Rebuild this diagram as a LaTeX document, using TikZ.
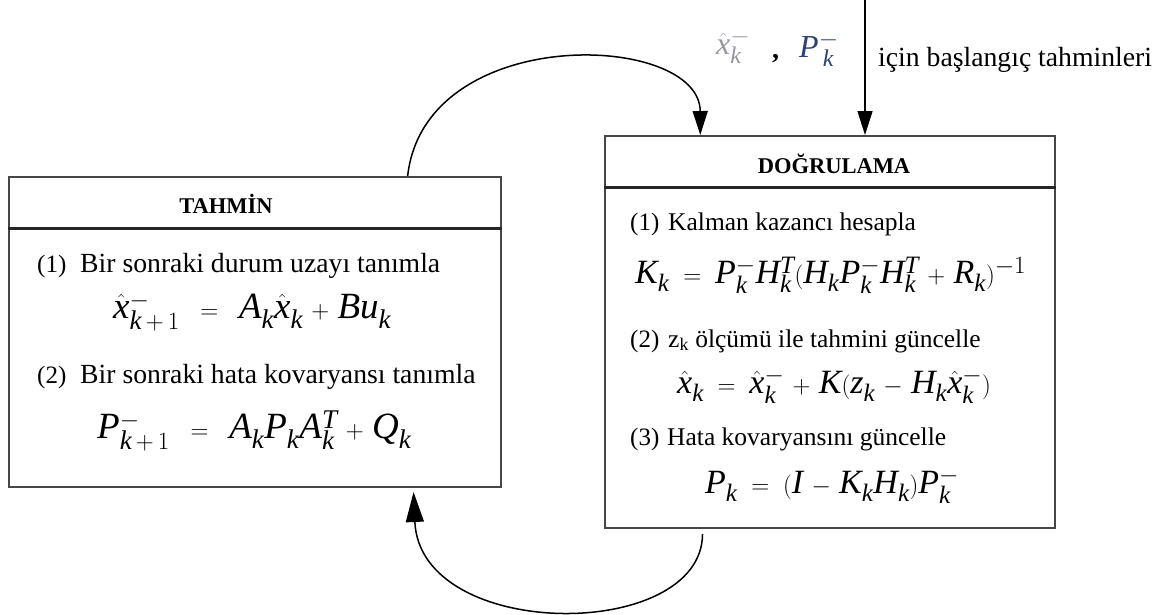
\documentclass[tikz,border=0pt]{standalone}
\usepackage{fontspec}
\setmainfont{Liberation Serif}[NFSSFamily=libser]
\DeclareSymbolFont{letters}{TU}{libser}{m}{it}
\DeclareSymbolFont{tmrm}{TU}{libser}{m}{n}
\DeclareMathSymbol{0}{\mathalpha}{tmrm}{"30}
\DeclareMathSymbol{1}{\mathalpha}{tmrm}{"31}
\DeclareMathSymbol{+}{\mathbin}{tmrm}{"2B}
\DeclareMathSymbol{=}{\mathrel}{tmrm}{"3D}
\DeclareMathSymbol{(}{\mathopen}{tmrm}{"28}
\DeclareMathSymbol{)}{\mathclose}{tmrm}{"29}
\DeclareMathSizes{37}{37}{27}{20}
\DeclareMathSizes{34}{34}{25}{19}
\DeclareMathSizes{32}{32}{24}{18}
\usetikzlibrary{arrows.meta,calc}
\definecolor{boxgray}{RGB}{70,70,70}
\definecolor{xcol}{RGB}{150,150,160}
\definecolor{pcol}{RGB}{45,65,110}
\newcommand{\wideops}{\medmuskip=6mu plus 2mu\relax}
\tikzset{
  box/.style={draw=boxgray, line width=2pt, inner sep=0pt, anchor=north west},
  divider/.style={draw=black!85, line width=3pt},
  hdr/.style={font=\fontsize{22.5}{26}\selectfont\bfseries, anchor=base, inner sep=0pt},
  txtL/.style={font=\fontsize{27.7}{32}\selectfont, anchor=base west, inner sep=0pt},
  txtR/.style={font=\fontsize{25.5}{30}\selectfont, anchor=base west, inner sep=0pt},
  lbl/.style={font=\fontsize{25}{28}\selectfont, anchor=base west, inner sep=0pt},
  frmL/.style={font=\fontsize{37}{40}\selectfont\wideops, anchor=base west, inner sep=0pt},
  frmR/.style={font=\fontsize{34}{38}\selectfont\wideops, anchor=base west, inner sep=0pt},
  flow/.style={draw=black, line width=1.5pt, -{Triangle[length=24pt,width=15pt]}},
}
\begin{document}
\begin{tikzpicture}[x=1pt,y=-1pt]
\useasboundingbox (0,0) rectangle (1171,614);
% boxes
\node[box, minimum width=492pt, minimum height=310pt] (tahmin) at (8,176) {};
\node[box, minimum width=450pt, minimum height=392pt] (dogru) at (604,135) {};
\draw[divider] ([yshift=-52pt]tahmin.north west) -- ([yshift=-52pt]tahmin.north east);
\draw[divider] ([yshift=-52pt]dogru.north west) -- ([yshift=-52pt]dogru.north east);
% headers
\node[hdr] (h1) at (226,213) {TAHMİN};
\node[hdr] (h2) at (834,173) {DOĞRULAMA};
% left body
\node[lbl] (l1) at (37,272) {(1)};
\node[txtL] (t1) at (80,272) {Bir sonraki durum uzayı tanımla};
\node[frmL] (f1) at (113,318) {$\hat{x}^{-}_{k\,+\,1} \;\;=\;\; A_k\hat{x}_k + Bu_k$};
\node[lbl] (l2) at (37,383) {(2)};
\node[txtL] (t2) at (80,383) {Bir sonraki hata kovaryansı tanımla};
\node[frmL] (f2) at (97,438) {$P^{-}_{k\,+\,1} \;\;=\;\; A_kP_kA^{T}_{k} + Q_k$};
% right body
\node[lbl] (r1) at (630,230) {(1)};
\node[txtR] (u1) at (668,230) {Kalman kazancı hesapla};
\node[frmR] (g1) at (635,283) {$K_k \;=\; P^{-}_kH^{T}_k(H_kP^{-}_kH^{T}_k + R_k)^{-1}$};
\node[lbl] (r2) at (630,347) {(2)};
\node[txtR] (u2) at (668,347) {z\textsubscript{k} ölçümü ile tahmini güncelle};
\node[frmR] (g2) at (677,393) {$\hat{x}_k \;=\; \hat{x}^{-}_k + K(z_k - H_k\hat{x}^{-}_k)$};
\node[lbl] (r3) at (630,445) {(3)};
\node[txtR] (u3) at (667,445) {Hata kovaryansını güncelle};
\node[frmR] (g3) at (705,493) {$P_k \;=\; (I - K_kH_k)P^{-}_k$};
% top initial estimates
\node[font=\fontsize{32}{34}\selectfont, anchor=base west, inner sep=0pt, text=xcol] (x0) at (716,54) {$\hat{x}^{-}_k$};
\node[font=\fontsize{28}{30}\selectfont\bfseries, anchor=base west, inner sep=0pt] (cm) at (772,58) {,};
\node[font=\fontsize{32}{34}\selectfont, anchor=base west, inner sep=0pt, text=pcol] (p0) at (799,57) {$P^{-}_{\,k}$};
\node[txtL] (init) at (878,66) {için başlangıç tahminleri};
% connectors
\coordinate (src) at (865,0);
\draw[flow] (src) -- (src |- dogru.north);
\coordinate (a1) at ($(tahmin.north west)!0.809!(tahmin.north east)$);
\coordinate (a2) at ($(dogru.north west)!0.213!(dogru.north east)$);
\draw[flow] (a1) .. controls (425,22) and (700,32) .. (a2);
\coordinate (b1) at ($(dogru.south west)!0.218!(dogru.south east)+(0,5)$);
\coordinate (b2) at ($(tahmin.south west)!0.821!(tahmin.south east)+(0,4)$);
\draw[flow, -{Triangle[length=30pt,width=18pt]}] (b1) .. controls (702,642) and (420,642) .. (b2);
\end{tikzpicture}
\end{document}
